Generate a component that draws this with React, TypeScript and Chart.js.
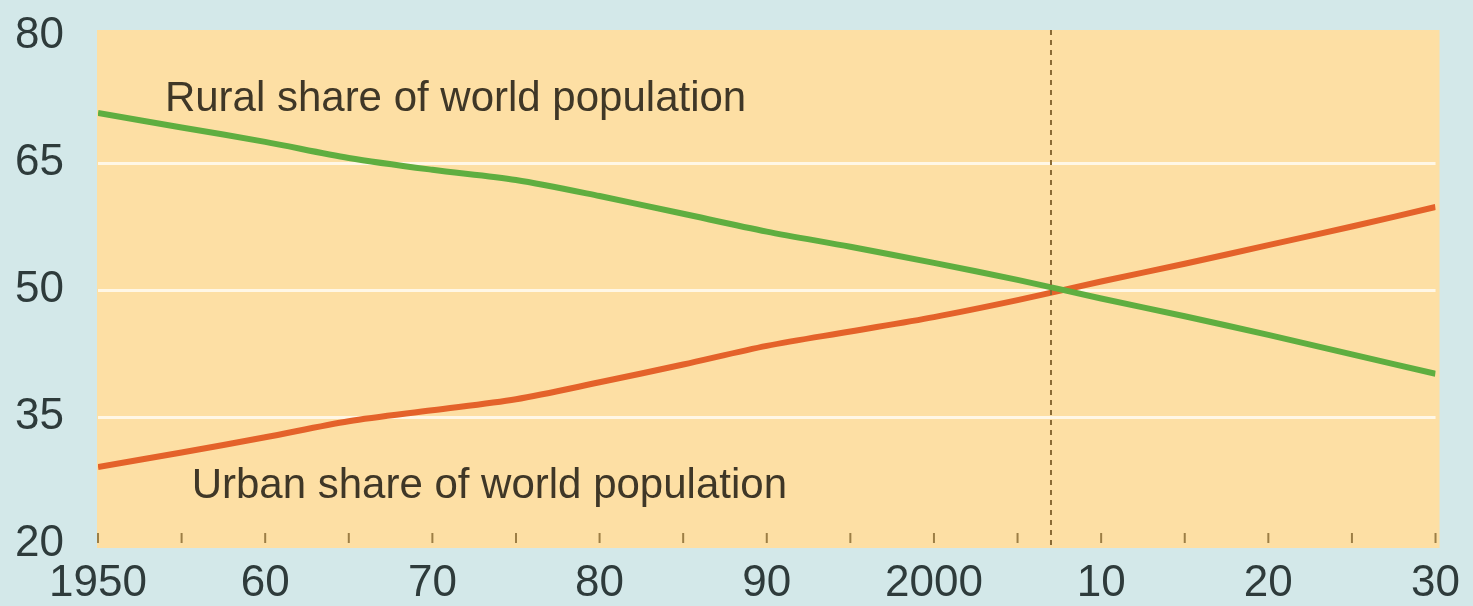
import React, { useEffect, useRef } from "react";
import { Chart, registerables } from "chart.js";

Chart.register(...registerables);

const years = [1950, 1955, 1960, 1965, 1970, 1975, 1980, 1985, 1990, 1995, 2000, 2005, 2010, 2015, 2020, 2025, 2030];
const ruralShare = [70.9, 69.2, 67.5, 65.6, 64.2, 63.0, 61.1, 59.0, 56.9, 55.1, 53.2, 51.2, 49.0, 46.9, 44.7, 42.4, 40.1];
const urbanShare = [29.1, 30.8, 32.6, 34.5, 35.8, 37.1, 39.1, 41.2, 43.4, 45.1, 46.8, 48.8, 51.0, 53.1, 55.3, 57.5, 59.8];
const yTicks = [20, 35, 50, 65, 80];
const gridValues = [35, 50, 65];
const minorTickYears = [1950, 1955, 1960, 1965, 1970, 1975, 1980, 1985, 1990, 1995, 2000, 2005, 2010, 2015, 2020, 2025, 2030];
const markerYear = 2007;
const ruralLabel = "Rural share of world population";
const urbanLabel = "Urban share of world population";

const FONT = "'Liberation Sans', Arial, Helvetica, sans-serif";

const decorPlugin = {
  id: "decor",
  beforeDraw(chart: any) {
    const { ctx, chartArea } = chart;
    ctx.save();
    ctx.fillStyle = "#fddfa4";
    ctx.fillRect(chartArea.left - 1, chartArea.top - 6, chartArea.right - chartArea.left + 5, chartArea.bottom - chartArea.top + 10);
    ctx.restore();
  },
  afterDatasetsDraw(chart: any) {
    const { ctx, chartArea, scales } = chart;
    const xs = scales.x;
    const ys = scales.y;
    ctx.save();
    ctx.strokeStyle = "#9c7e45";
    ctx.lineWidth = 2;
    for (const yr of minorTickYears) {
      const px = xs.getPixelForValue(yr);
      ctx.beginPath();
      ctx.moveTo(px, chartArea.bottom - 11);
      ctx.lineTo(px, chartArea.bottom - 1);
      ctx.stroke();
    }
    const mx = xs.getPixelForValue(markerYear);
    ctx.strokeStyle = "#8a6a35";
    ctx.lineWidth = 2;
    ctx.setLineDash([5, 5]);
    ctx.beginPath();
    ctx.moveTo(mx, chartArea.top - 6);
    ctx.lineTo(mx, chartArea.bottom + 4);
    ctx.stroke();
    ctx.setLineDash([]);
    ctx.fillStyle = "#3f3727";
    ctx.font = `42px ${FONT}`;
    ctx.textAlign = "left";
    ctx.textBaseline = "alphabetic";
    ctx.fillText(ruralLabel, xs.getPixelForValue(1954), ys.getPixelForValue(71.2));
    ctx.fillText(urbanLabel, xs.getPixelForValue(1955.6), ys.getPixelForValue(25.4));
    ctx.restore();
  },
};

export default function App() {
  const ref = useRef<HTMLCanvasElement | null>(null);
  useEffect(() => {
    if (!ref.current) return;
    const chart = new Chart(ref.current, {
      type: "line",
      data: {
        datasets: [
          {
            label: "Rural",
            data: years.map((y, i) => ({ x: y, y: ruralShare[i] })),
            borderColor: "#5fae40",
            borderWidth: 6,
            pointRadius: 0,
            tension: 0.3,
            borderCapStyle: "butt",
          },
          {
            label: "Urban",
            data: years.map((y, i) => ({ x: y, y: urbanShare[i] })),
            borderColor: "#e4622a",
            borderWidth: 6,
            pointRadius: 0,
            tension: 0.3,
            borderCapStyle: "butt",
          },
        ],
      },
      options: {
        animation: false,
        responsive: false,
        maintainAspectRatio: false,
        layout: { padding: { left: 15, right: 35, top: 36, bottom: 0 } },
        plugins: { legend: { display: false }, tooltip: { enabled: false } },
        scales: {
          x: {
            type: "linear",
            min: 1950,
            max: 2030,
            afterFit(scale: any) {
              scale.height = 62;
            },
            afterBuildTicks(scale: any) {
              scale.ticks = [1950, 1960, 1970, 1980, 1990, 2000, 2010, 2020, 2030].map((v) => ({ value: v }));
            },
            ticks: {
              autoSkip: false,
              maxRotation: 0,
              padding: 13,
              color: "#2e3b3b",
              font: { family: FONT, size: 44 },
              callback: (v: any) => {
                const n = Number(v);
                return n === 1950 || n === 2000 ? String(n) : String(n % 100).padStart(2, "0");
              },
            },
            grid: { display: false, drawTicks: false },
            border: { display: false },
          },
          y: {
            min: 20,
            max: 80,
            afterFit(scale: any) {
              scale.width = 83;
            },
            afterBuildTicks(scale: any) {
              scale.ticks = yTicks.map((v) => ({ value: v }));
            },
            ticks: {
              crossAlign: "far",
              color: "#2e3b3b",
              font: { family: FONT, size: 44 },
            },
            grid: {
              drawTicks: false,
              lineWidth: 3,
              color: (c: any) => (gridValues.includes(c.tick?.value) ? "#fff7e6" : "rgba(0,0,0,0)"),
            },
            border: { display: false },
          },
        },
      },
      plugins: [decorPlugin],
    });
    return () => chart.destroy();
  }, []);
  return (
    <div style={{ position: "fixed", left: 0, top: 0, width: 1473, height: 606, background: "#d3e8e9" }}>
      <canvas ref={ref} width={1473} height={606} style={{ width: 1473, height: 606, display: "block" }} />
    </div>
  );
}
